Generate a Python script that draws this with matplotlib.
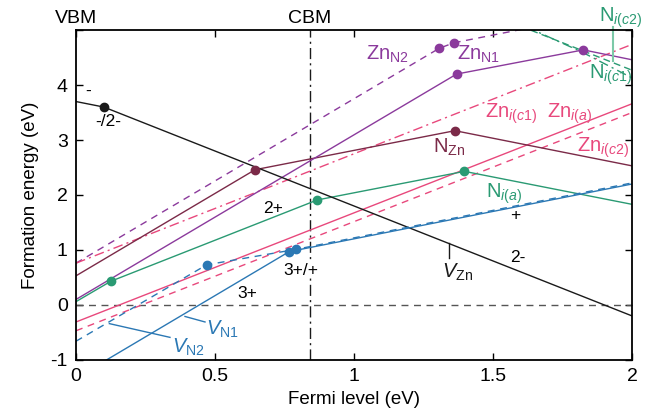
import matplotlib
matplotlib.use("Agg")
import matplotlib.pyplot as plt

plt.rcParams['font.family'] = ['Liberation Sans', 'DejaVu Sans']
plt.rcParams['mathtext.fontset'] = 'custom'
plt.rcParams['mathtext.rm'] = 'Liberation Sans'
plt.rcParams['mathtext.it'] = 'Liberation Sans:italic'
plt.rcParams['axes.unicode_minus'] = False

# breakpoints (Fermi level, formation energy)
vzn_x = [0.0, 0.10, 2.0]
vzn_y = [3.70, 3.60, -0.20]
vn1_x = [0.0, 0.767, 2.0]
vn1_y = [-1.33, 0.97, 2.20]
vn2_x = [0.0, 0.47, 0.79, 2.0]
vn2_y = [-0.66, 0.73, 1.01, 2.22]
znia_x = [0.0, 2.0]
znia_y = [-0.31, 3.66]
znic2_x = [0.0, 2.0]
znic2_y = [-0.47, 3.50]
znic1_x = [0.0, 2.0]
znic1_y = [0.76, 4.74]
znn1_x = [0.0, 1.369, 1.825, 2.0]
znn1_y = [0.10, 4.20, 4.64, 4.46]
znn2_x = [0.0, 1.307, 1.36, 2.0]
znn2_y = [0.76, 4.67, 4.77, 5.41]
nzn_x = [0.0, 0.644, 1.363, 2.0]
nzn_y = [0.53, 2.46, 3.17, 2.53]
nia_x = [0.0, 0.125, 0.868, 1.397, 2.0]
nia_y = [0.06, 0.43, 1.91, 2.43, 1.83]
nic1_x = [1.60, 2.0]
nic1_y = [5.07, 4.27]
nic2_x = [1.62, 1.82, 2.0]
nic2_y = [5.06, 4.60, 4.13]

cbm = 0.84

BLACK = '#1a1a1a'
BLUE = '#2b78b4'
PINK = '#e8487c'
PURPLE = '#8b3a9c'
MAROON = '#7b2a48'
GREEN = '#2a9a73'
LGREEN = '#7cc9a8'

fig = plt.figure(figsize=(6.57, 4.18), dpi=100)
ax = fig.add_axes([0.1157, 0.139, 0.8463, 0.789])

lw = 1.0
ax.axhline(0, color='#555555', lw=1.0, ls=(0, (5, 4)))
ax.axvline(cbm, color=BLACK, lw=1.0, ls=(0, (8, 3, 1.5, 3)))

ax.plot(znn2_x, znn2_y, color=PURPLE, lw=lw, ls=(0, (5, 4)))
ax.plot(znic1_x, znic1_y, color=PINK, lw=lw, ls=(0, (7, 3, 1.5, 3)))
ax.plot(znic2_x, znic2_y, color=PINK, lw=lw, ls=(0, (5, 4)))
ax.plot(znia_x, znia_y, color=PINK, lw=lw)
ax.plot(nic1_x, nic1_y, color=GREEN, lw=lw, ls=(0, (5, 3)))
ax.plot(nic2_x, nic2_y, color=GREEN, lw=lw, ls=(0, (7, 3, 1.5, 3)))
ax.plot(nzn_x, nzn_y, color=MAROON, lw=lw)
ax.plot(znn1_x, znn1_y, color=PURPLE, lw=lw)
ax.plot(nia_x, nia_y, color=GREEN, lw=lw)
ax.plot(vzn_x, vzn_y, color=BLACK, lw=lw)
ax.plot(vn1_x, vn1_y, color=BLUE, lw=lw)
ax.plot(vn2_x, vn2_y, color=BLUE, lw=lw, ls=(0, (5, 4)))

ms = 6
ax.plot(vzn_x[1], vzn_y[1], 'o', color=BLACK, ms=ms)
ax.plot(vn1_x[1], vn1_y[1], 'o', color=BLUE, ms=ms)
ax.plot(vn2_x[1:3], vn2_y[1:3], 'o', color=BLUE, ms=ms)
ax.plot(znn1_x[1:3], znn1_y[1:3], 'o', color=PURPLE, ms=ms)
ax.plot(znn2_x[1:3], znn2_y[1:3], 'o', color=PURPLE, ms=ms)
ax.plot(nzn_x[1:3], nzn_y[1:3], 'o', color=MAROON, ms=ms)
ax.plot(nia_x[1:4], nia_y[1:4], 'o', color=GREEN, ms=ms)

# leader lines for labels
ax.plot([0.392, 0.464], [-0.21, -0.31], color=BLUE, lw=1.0)
ax.plot([0.12, 0.338], [-0.34, -0.59], color=BLUE, lw=1.0)
ax.plot([1.342, 1.342], [1.12, 0.86], color=BLACK, lw=1.0)
ax.plot([1.93, 1.93], [5.05, 4.43], color=LGREEN, lw=1.5, clip_on=False)

fs = 14.5
cfs = 12.5
ax.text(0.043, 3.88, '-', fontsize=cfs, ha='center', va='center')
ax.text(0.115, 3.34, '-/2-', fontsize=cfs, ha='center', va='center')
ax.text(0.71, 1.76, '2+', fontsize=cfs, ha='center', va='center')
ax.text(0.807, 0.63, '3+/+', fontsize=cfs, ha='center', va='center',
        bbox=dict(facecolor='white', edgecolor='none', pad=0.5))
ax.text(0.615, 0.2, '3+', fontsize=cfs, ha='center', va='center')
ax.text(1.58, 1.62, '+', fontsize=cfs, ha='center', va='center')
ax.text(1.59, 0.86, '2-', fontsize=cfs, ha='center', va='center')

ax.text(1.12, 4.55, r'$\mathrm{Zn}_{\mathrm{N2}}$', color=PURPLE, fontsize=fs, ha='center', va='center')
ax.text(1.448, 4.55, r'$\mathrm{Zn}_{\mathrm{N1}}$', color=PURPLE, fontsize=fs, ha='center', va='center')
ax.text(1.342, 2.86, r'$\mathrm{N}_{\mathrm{Zn}}$', color=MAROON, fontsize=fs, ha='center', va='center')
ax.text(1.565, 3.48, r'$\mathrm{Zn}_{\mathit{i(c1)}}$', color=PINK, fontsize=fs, ha='center', va='center')
ax.text(1.775, 3.48, r'$\mathrm{Zn}_{\mathit{i(a)}}$', color=PINK, fontsize=fs, ha='center', va='center')
ax.text(1.897, 2.86, r'$\mathrm{Zn}_{\mathit{i(c2)}}$', color=PINK, fontsize=fs, ha='center', va='center')
ax.text(1.54, 2.03, r'$\mathrm{N}_{\mathit{i(a)}}$', color=GREEN, fontsize=fs, ha='center', va='center')
ax.text(1.924, 4.18, r'$\mathrm{N}_{\mathit{i(c1)}}$', color=GREEN, fontsize=fs, ha='center', va='center')
ax.text(1.96, 5.22, r'$\mathrm{N}_{\mathit{i(c2)}}$', color=GREEN, fontsize=fs, ha='center', va='center',
        clip_on=False)
ax.text(1.372, 0.60, r'$V_{\mathrm{Zn}}$', color=BLACK, fontsize=fs, ha='center', va='center')
ax.text(0.527, -0.44, r'$V_{\mathrm{N1}}$', color=BLUE, fontsize=fs, ha='center', va='center')
ax.text(0.405, -0.78, r'$V_{\mathrm{N2}}$', color=BLUE, fontsize=fs, ha='center', va='center')

ax.text(0.0, 5.21, 'VBM', fontsize=14, ha='center', va='center', clip_on=False)
ax.text(cbm, 5.21, 'CBM', fontsize=14, ha='center', va='center', clip_on=False)

ax.set_xlim(0, 2)
ax.set_ylim(-1, 5)
ax.set_xticks([0, 0.5, 1, 1.5, 2])
ax.set_xticklabels(['0', '0.5', '1', '1.5', '2'])
ax.set_yticks([-1, 0, 1, 2, 3, 4, 5])
ax.set_yticklabels(['-1', '0', '1', '2', '3', '4', ''])
ax.tick_params(direction='in', top=True, right=True, labelsize=14, length=5, width=1.0, pad=6)
for s in ax.spines.values():
    s.set_linewidth(1.3)
ax.set_xlabel('Fermi level (eV)', fontsize=13.5, labelpad=4)
ax.set_ylabel('Formation energy (eV)', fontsize=13.5, labelpad=8)

fig.savefig('out.png', dpi=100)
